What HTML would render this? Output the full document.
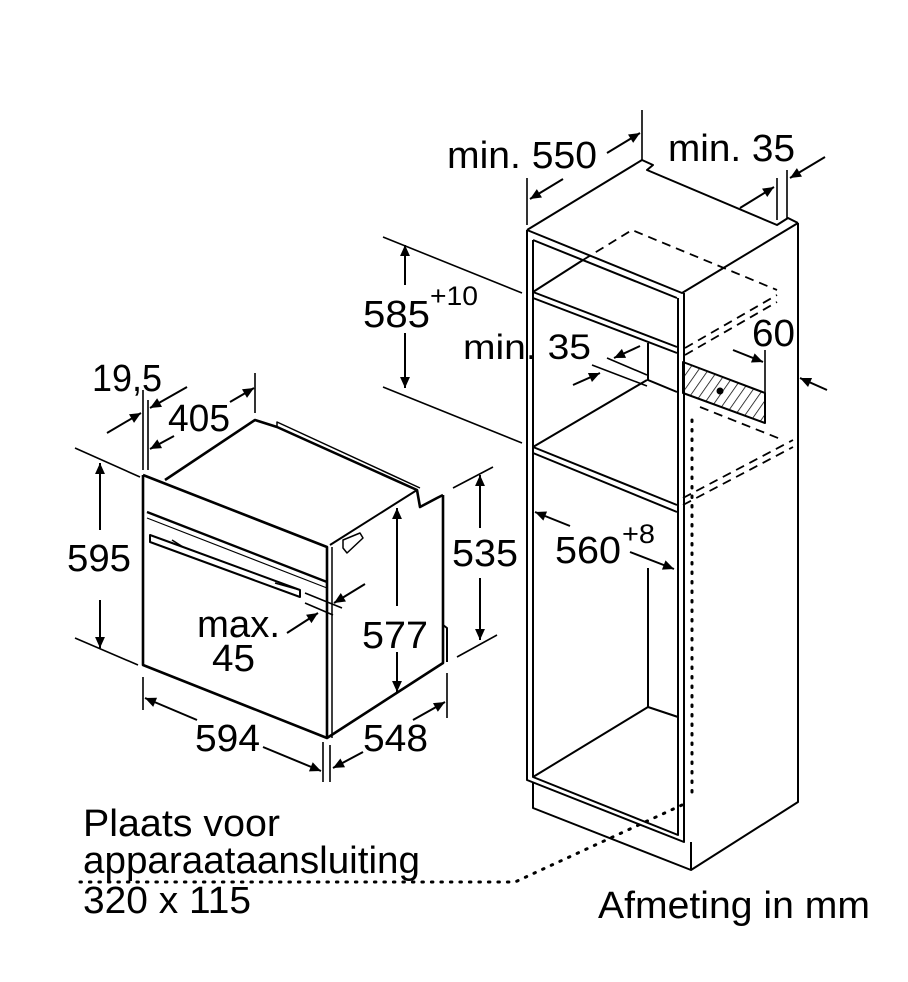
<!DOCTYPE html>
<html><head><meta charset="utf-8"><style>
html,body{margin:0;padding:0;background:#fff}
svg{display:block}
text{font-family:"Liberation Sans",sans-serif;fill:#000}
</style></head><body>
<svg width="908" height="982" viewBox="0 0 908 982" xmlns="http://www.w3.org/2000/svg">
<defs>
<marker id="b" viewBox="0 0 10 10" refX="10" refY="5" markerWidth="19" markerHeight="11" markerUnits="userSpaceOnUse" orient="auto"><path d="M0,0.5 L10,5 L0,9.5 z" fill="#000"/></marker>
<pattern id="h" width="8" height="8" patternUnits="userSpaceOnUse" patternTransform="rotate(35)"><line x1="0" y1="0" x2="0" y2="8" stroke="#000" stroke-width="1.5"/></pattern>
</defs>
<g fill="none" stroke="#000" stroke-width="2" stroke-linejoin="round">
<!-- OVEN -->
<path d="M143,475 L143,665 L327,738 L443,663 L443,495" stroke-width="2.6"/>
<path d="M143,475 L327,547 L327,738" stroke-width="2.6"/>
<path d="M332,547 L332,738" stroke-width="1.5"/>
<path d="M165,480 L255,420 L277,427 L417,490 L420,507 L437,498 L443,495" stroke-width="2.6"/>
<path d="M330,545 L417,490"/>
<path d="M277,427 L277,422 L420,488" stroke-width="1.5"/>
<path d="M147,512 L327,582" stroke-width="2.4"/>
<path d="M147,518 L327,588" stroke-width="1.2"/>
<path d="M150,535 L183,547 L300,590 L300,597 L150,542 Z" stroke-width="2"/>
<path d="M172,540 L183,547" stroke-width="1.5"/>
<path d="M275,583 L300,590" stroke-width="1.5"/>
<path d="M343,540 L360,533 L363,538 L347,553 L343,548 Z" stroke-width="1.5"/>
<path d="M443,625 L447,628 L447,662" stroke-width="2"/>
<!-- oven dims -->
<path d="M75,448 L140,477 M75,638 L138,665" stroke-width="1.6"/>
<path d="M100,530 L100,463" marker-end="url(#b)"/><path d="M100,600 L100,648" marker-end="url(#b)"/>
<path d="M143,390 L143,470 M148,400 L148,470 M255,373 L255,413" stroke-width="1.6"/>
<path d="M107,433 L141,413" marker-end="url(#b)"/>
<path d="M187,387 L150,408" marker-end="url(#b)"/>
<path d="M174,436 L150,449" marker-end="url(#b)"/>
<path d="M230,402 L254,388" marker-end="url(#b)"/>
<path d="M143,677 L143,710 M323,742 L323,782 M330,745 L330,782 M447,673 L447,718" stroke-width="1.6"/>
<path d="M197,720 L145,698" marker-end="url(#b)"/>
<path d="M263,747 L321,771" marker-end="url(#b)"/>
<path d="M363,752 L333,768" marker-end="url(#b)"/>
<path d="M413,720 L445,702" marker-end="url(#b)"/>
<path d="M397,606 L397,508" marker-end="url(#b)"/><path d="M397,652 L397,692" marker-end="url(#b)"/>
<path d="M453,488 L493,467 M457,657 L497,635" stroke-width="1.6"/>
<path d="M480,528 L480,475" marker-end="url(#b)"/><path d="M480,578 L480,640" marker-end="url(#b)"/>
<path d="M305,593 L342,608 M305,603 L333,615" stroke-width="1.6"/>
<path d="M365,584 L334,603" marker-end="url(#b)"/>
<path d="M287,633 L318,613" marker-end="url(#b)"/>
<!-- CABINET -->
<path d="M527,230 L642,160 L653,165 L647,170 L777,225 L788,218 L798,223" />
<path d="M527,230 L682,293 L798,223"/>
<path d="M533,240 L677,298"/>
<path d="M527,230 L527,780 L684,842 L684,293 M533,240 L533,777 L678,835 L678,298"/>
<path d="M798,223 L798,802 L691,870 L533,808 L533,783 M691,870 L691,842 M798,773 L798,802"/>
<path d="M533,292 L583,260 M533,292 L677,347 M533,298 L677,353"/>
<path d="M648,343 L648,380 L677,392"/>
<path d="M533,447 L647,380 M533,447 L677,505 M533,453 L677,512"/>
<path d="M533,777 L648,707 L678,717 M648,707 L648,568"/>
<g stroke-dasharray="9,6" stroke-width="1.8">
<path d="M583,260 L632,230 L777,290 M685,348 L777,295 M685,355 L777,302 M700,407 L783,440 M683,498 L793,440 M683,505 L793,447"/>
</g>
<path d="M683,362 L765,393 L765,423 L683,393 Z" fill="url(#h)" stroke-width="2"/>
<path d="M692,420 L692,800" stroke-dasharray="1.5,8" stroke-linecap="round" stroke-width="3"/>
<path d="M682,805 L515,882 L80,882" stroke-dasharray="1.5,8" stroke-linecap="round" stroke-width="3"/>
<circle cx="720" cy="391" r="2.5" fill="#000"/>
<!-- cabinet dims -->
<path d="M527,178 L527,225 M642,110 L642,160 M777,178 L777,220 M787,170 L787,218" stroke-width="1.6"/>
<path d="M563,179 L530,199" marker-end="url(#b)"/>
<path d="M607,153 L640,133" marker-end="url(#b)"/>
<path d="M740,208 L774,187" marker-end="url(#b)"/>
<path d="M825,157 L790,178" marker-end="url(#b)"/>
<path d="M383,237 L522,293 M383,387 L522,443" stroke-width="1.6"/>
<path d="M405,285 L405,245" marker-end="url(#b)"/><path d="M405,333 L405,388" marker-end="url(#b)"/>
<path d="M607,358 L647,375 M592,365 L647,386" stroke-width="1.6"/>
<path d="M640,346 L614,358" marker-end="url(#b)"/>
<path d="M573,385 L600,373" marker-end="url(#b)"/>
<path d="M765,350 L765,393" stroke-width="1.6"/>
<path d="M733,350 L763,362" marker-end="url(#b)"/>
<path d="M827,390 L800,378" marker-end="url(#b)"/>
<path d="M570,526 L535,512" marker-end="url(#b)"/>
<path d="M630,552 L674,569" marker-end="url(#b)"/>
</g>
<g font-size="38" lengthAdjust="spacingAndGlyphs">
<text x="447" y="168" textLength="150" lengthAdjust="spacingAndGlyphs">min. 550</text>
<text x="668" y="161" textLength="127" lengthAdjust="spacingAndGlyphs">min. 35</text>
<text x="363" y="327" textLength="67" lengthAdjust="spacingAndGlyphs">585</text>
<text x="430" y="305" font-size="27" textLength="48" lengthAdjust="spacingAndGlyphs">+10</text>
<text x="463" y="359" font-size="35" textLength="128" lengthAdjust="spacingAndGlyphs">min. 35</text>
<text x="752" y="346" textLength="43" lengthAdjust="spacingAndGlyphs">60</text>
<text x="555" y="563" textLength="66" lengthAdjust="spacingAndGlyphs">560</text>
<text x="622" y="543" font-size="27" textLength="33" lengthAdjust="spacingAndGlyphs">+8</text>
<text x="92" y="391" textLength="70" lengthAdjust="spacingAndGlyphs">19,5</text>
<text x="168" y="431" textLength="62" lengthAdjust="spacingAndGlyphs">405</text>
<text x="67" y="571" textLength="64" lengthAdjust="spacingAndGlyphs">595</text>
<text x="197" y="637" textLength="83" lengthAdjust="spacingAndGlyphs">max.</text>
<text x="212" y="671" textLength="43" lengthAdjust="spacingAndGlyphs">45</text>
<text x="362" y="648" textLength="66" lengthAdjust="spacingAndGlyphs">577</text>
<text x="452" y="566" textLength="66" lengthAdjust="spacingAndGlyphs">535</text>
<text x="195" y="751" textLength="65" lengthAdjust="spacingAndGlyphs">594</text>
<text x="363" y="751" textLength="65" lengthAdjust="spacingAndGlyphs">548</text>
<text x="83" y="836" textLength="197" lengthAdjust="spacingAndGlyphs">Plaats voor</text>
<text x="83" y="873" textLength="337" lengthAdjust="spacingAndGlyphs">apparaataansluiting</text>
<text x="83" y="913" textLength="168" lengthAdjust="spacingAndGlyphs">320 x 115</text>
<text x="598" y="918" textLength="272" lengthAdjust="spacingAndGlyphs">Afmeting in mm</text>
</g>
</svg>
</body></html>
